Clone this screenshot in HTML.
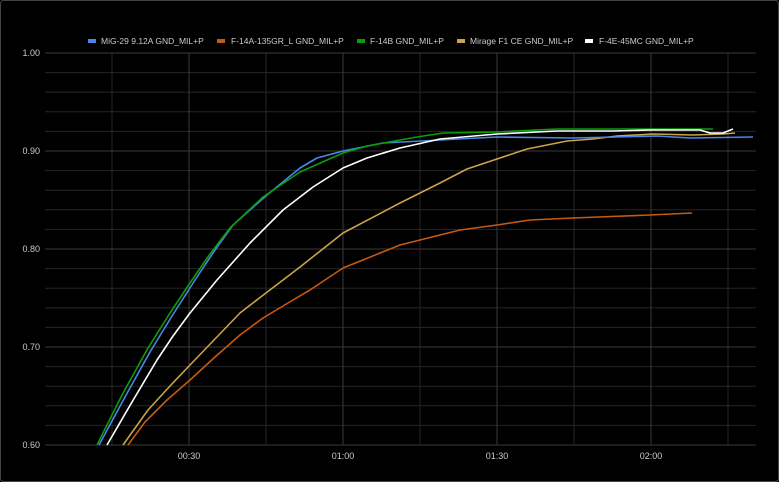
<!DOCTYPE html>
<html><head><style>
html,body{margin:0;padding:0;background:#000;}
svg{display:block;}
text{font-family:"Liberation Sans",sans-serif;}
</style></head><body>
<svg width="779" height="482" viewBox="0 0 779 482" xmlns="http://www.w3.org/2000/svg">
<rect x="0.5" y="0.5" width="778" height="481" rx="3" fill="#000" stroke="#444"/>
<g stroke="#262626" stroke-width="1">
<line x1="45" y1="72.6" x2="756" y2="72.6"/><line x1="45" y1="92.2" x2="756" y2="92.2"/><line x1="45" y1="111.8" x2="756" y2="111.8"/><line x1="45" y1="131.4" x2="756" y2="131.4"/>
<line x1="45" y1="170.6" x2="756" y2="170.6"/><line x1="45" y1="190.2" x2="756" y2="190.2"/><line x1="45" y1="209.8" x2="756" y2="209.8"/><line x1="45" y1="229.4" x2="756" y2="229.4"/>
<line x1="45" y1="268.6" x2="756" y2="268.6"/><line x1="45" y1="288.2" x2="756" y2="288.2"/><line x1="45" y1="307.8" x2="756" y2="307.8"/><line x1="45" y1="327.4" x2="756" y2="327.4"/>
<line x1="45" y1="366.6" x2="756" y2="366.6"/><line x1="45" y1="386.2" x2="756" y2="386.2"/><line x1="45" y1="405.8" x2="756" y2="405.8"/><line x1="45" y1="425.4" x2="756" y2="425.4"/>
<line x1="112" y1="53" x2="112" y2="445"/><line x1="266" y1="53" x2="266" y2="445"/><line x1="420" y1="53" x2="420" y2="445"/><line x1="574" y1="53" x2="574" y2="445"/><line x1="728" y1="53" x2="728" y2="445"/>
</g>
<g stroke="#3a3a3a" stroke-width="1">
<line x1="45" y1="53" x2="756" y2="53"/><line x1="45" y1="151" x2="756" y2="151"/><line x1="45" y1="249" x2="756" y2="249"/><line x1="45" y1="347" x2="756" y2="347"/><line x1="45" y1="445" x2="756" y2="445"/>
<line x1="189" y1="53" x2="189" y2="445"/><line x1="343" y1="53" x2="343" y2="445"/><line x1="497" y1="53" x2="497" y2="445"/><line x1="651" y1="53" x2="651" y2="445"/>
</g>
<g fill="#ccc" font-size="9" text-anchor="end">
<text x="40" y="56">1.00</text><text x="40" y="154">0.90</text><text x="40" y="252">0.80</text><text x="40" y="350">0.70</text><text x="40" y="448">0.60</text>
</g>
<g fill="#ccc" font-size="9" text-anchor="middle">
<text x="189" y="459">00:30</text><text x="343" y="459">01:00</text><text x="497" y="459">01:30</text><text x="651" y="459">02:00</text>
</g>
<g font-size="8.5" fill="#ccc">
<rect x="88" y="39" width="8" height="4" fill="#4a86e8"/><text x="101" y="44">MiG-29 9.12A GND_MIL+P</text>
<rect x="217" y="39" width="8" height="4" fill="#c55a11"/><text x="231" y="44">F-14A-135GR_L GND_MIL+P</text>
<rect x="357" y="39" width="8" height="4" fill="#0a9e0a"/><text x="370" y="44">F-14B GND_MIL+P</text>
<rect x="457" y="39" width="8" height="4" fill="#c9a448"/><text x="470" y="44">Mirage F1 CE GND_MIL+P</text>
<rect x="585" y="39" width="8" height="4" fill="#fff"/><text x="599" y="44">F-4E-45MC GND_MIL+P</text>
</g>
<g fill="none" stroke-width="1.6" stroke-linejoin="round">
<polyline stroke="#c55a11" points="128,445 145,422 167,400 190,380 215,357 240,335 263,318 293,300 310,290 343,268 400,245 460,230 497,225 530,220 573,218 650,215 692,213"/>
<polyline stroke="#c9a448" points="123,445 148,410 170,386 190,365 215,339 240,313 262,296 283,280 300,267 343,233 400,203 440,183 467,169 497,159 527,149 567,141 593,139 617,136 653,134 693,135 723,134 735,133"/>
<polyline stroke="#4a86e8" points="99,445 125,397 150,352 172,316 195,280 215,250 233,225 267,195 300,168 317,158 343,151 383,143 440,140 497,137 573,138 657,136 690,138 753,137"/>
<polyline stroke="#0a9e0a" points="97,445 122,395 148,348 170,313 192,280 210,254 230,228 263,197 300,172 343,153 367,146 417,137 443,133 497,132 557,129 650,129 713,129"/>
<polyline stroke="#fff" points="107,445 132,402 157,360 173,336 190,313 217,280 250,243 283,210 313,187 343,168 367,158 400,148 440,139 497,134 557,131 613,131 650,130 700,130 710,133 723,133 733,129"/>
</g>
</svg>
</body></html>
